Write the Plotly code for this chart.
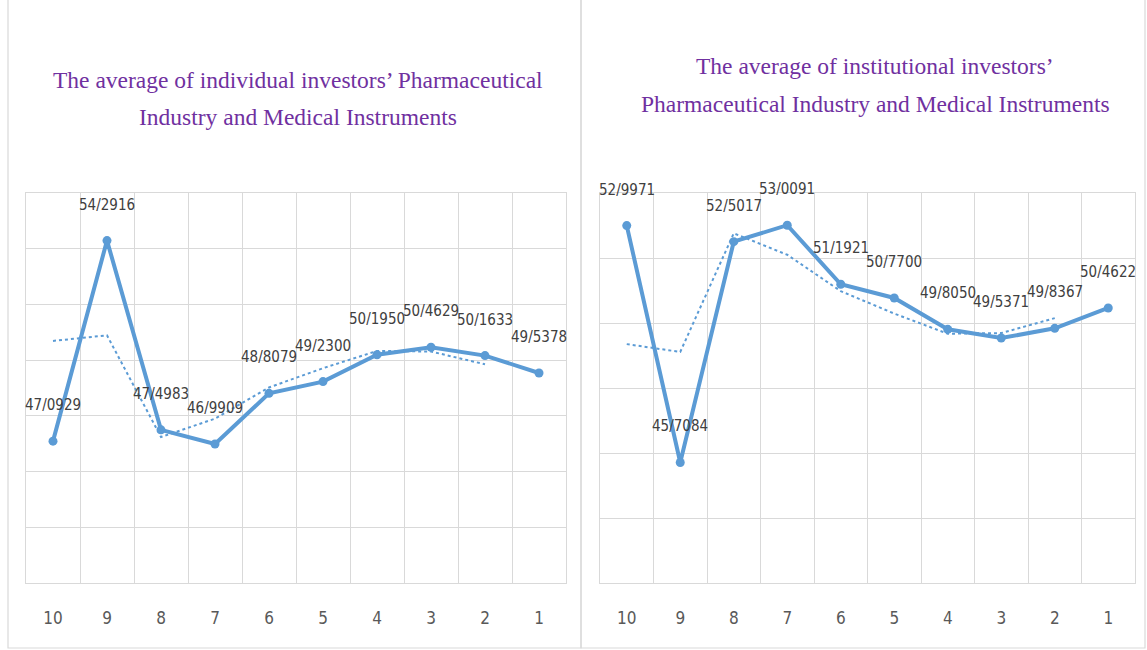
import plotly.graph_objects as go

# Periods, shown from 10 down to 1
periods = ["10", "9", "8", "7", "6", "5", "4", "3", "2", "1"]

# Individual investors: average per period
individual = [47.0929, 54.2916, 47.4983, 46.9909, 48.8079,
              49.2300, 50.1950, 50.4629, 50.1633, 49.5378]
# Two-period moving-average trendline (drawn on periods 10..2)
individual_trend = [50.69, 50.89, 47.24, 47.90, 49.02, 49.71, 50.33, 50.31, 49.85]

# Institutional investors: average per period
institutional = [52.9971, 45.7084, 52.5017, 53.0091, 51.1921,
                 50.7700, 49.8050, 49.5371, 49.8367, 50.4622]
institutional_trend = [49.35, 49.11, 52.76, 52.10, 50.98, 50.29, 49.67, 49.69, 50.15]

title_left = ["The average of individual investors’ Pharmaceutical",
              "Industry and Medical Instruments"]
title_right = ["The average of institutional investors’",
               "Pharmaceutical Industry and Medical Instruments"]

W, H = 1147, 650
BLUE = "#5B9BD5"
GRID = "#D9D9D9"
PURPLE = "#7030A0"
NARROW = "Liberation Sans Narrow, DejaVu Sans Condensed, Arial Narrow, sans-serif"
SERIF = "Liberation Serif, Times New Roman, serif"


def px_x(p):
    return p / W


def px_y(p):
    return 1 - p / H


def label(v):
    return f"{v:.4f}".replace(".", "/")


fig = go.Figure()

for xa, ya, vals, trend in [("x", "y", individual, individual_trend),
                            ("x2", "y2", institutional, institutional_trend)]:
    fig.add_trace(go.Scatter(
        x=periods[:len(trend)], y=trend, xaxis=xa, yaxis=ya, mode="lines",
        line=dict(color=BLUE, width=2, dash="dot"), hoverinfo="skip",
        showlegend=False))
    fig.add_trace(go.Scatter(
        x=periods, y=vals, xaxis=xa, yaxis=ya, mode="lines+markers",
        line=dict(color=BLUE, width=4), marker=dict(color=BLUE, size=9),
        showlegend=False))
    # value labels, placed by category index on the same axes
    for i, v in enumerate(vals):
        fig.add_annotation(
            x=i, y=v, xref=xa, yref=ya, text=label(v), showarrow=False,
            yshift=36, font=dict(family=NARROW, size=15, color="#404040"))

axis_common = dict(
    type="category", range=[-0.5, 9.5], tickson="boundaries",
    showgrid=True, gridcolor=GRID, gridwidth=1,
    showline=True, linecolor=GRID, mirror=True, ticks="",
    tickfont=dict(family=NARROW, size=17, color="#595959"),
    ticklabelstandoff=20, fixedrange=True)
yaxis_common = dict(
    showgrid=True, gridcolor=GRID, gridwidth=1, dtick=2,
    showticklabels=False, zeroline=False,
    showline=True, linecolor=GRID, mirror=True, ticks="", fixedrange=True)

ydom = [px_y(583), px_y(193)]
fig.update_layout(
    width=W, height=H, margin=dict(l=0, r=0, t=0, b=0),
    paper_bgcolor="white", plot_bgcolor="white",
    xaxis=dict(domain=[px_x(26), px_x(566)], anchor="y", **axis_common),
    yaxis=dict(domain=ydom, range=[42, 56], anchor="x", **yaxis_common),
    xaxis2=dict(domain=[px_x(600), px_x(1135)], anchor="y2", **axis_common),
    yaxis2=dict(domain=ydom, range=[42, 54], anchor="x2", **yaxis_common),
)

# Panel frames
for x0, x1 in [(8, 581), (581, 1145)]:
    fig.add_shape(type="rect", xref="paper", yref="paper",
                  x0=px_x(x0), x1=px_x(x1), y0=px_y(648), y1=px_y(-5),
                  line=dict(color=GRID, width=1.2), fillcolor="rgba(0,0,0,0)",
                  layer="below")

# Chart titles
for cx, lines, ys in [(298, title_left, (80, 117)),
                      (875, title_right, (66, 104))]:
    for text, yy in zip(lines, ys):
        fig.add_annotation(
            x=px_x(cx), y=px_y(yy), xref="paper", yref="paper",
            text=text, showarrow=False, xanchor="center", yanchor="middle",
            font=dict(family=SERIF, size=23.5, color=PURPLE))

fig.write_html("out.html")
